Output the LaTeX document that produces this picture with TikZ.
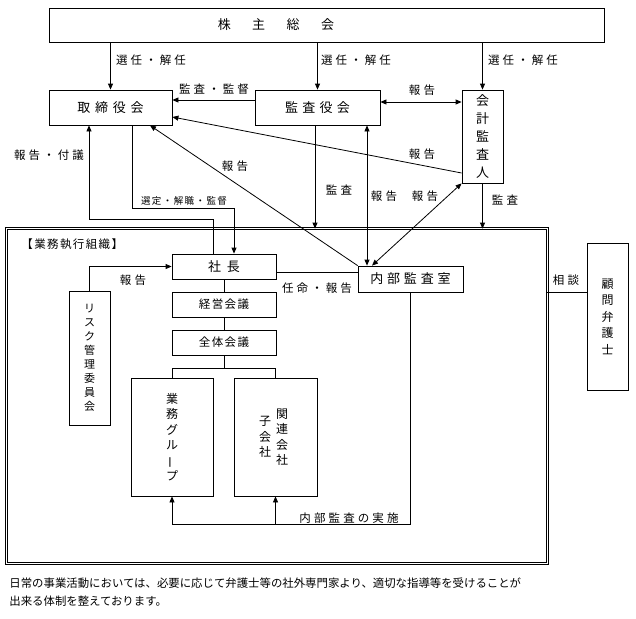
\documentclass[tikz,border=0pt]{standalone}
\usepackage{fontspec}
\setmainfont{Noto Sans CJK JP}
\usepackage{tikz}
\usetikzlibrary{arrows.meta}

\begin{document}
\begin{tikzpicture}[x=1pt, y=-1pt,
  >={Triangle[length=6pt, width=5pt]},
  box/.style={rectangle, draw=black, inner sep=0pt},
  %
  bigtext/.style={inner sep=0pt,
    font={\fontsize{13}{15}\selectfont\addfontfeature{LetterSpace=#1}}},
  %
  midtext/.style={inner sep=0pt,
    font={\fontsize{11.5}{13}\selectfont\addfontfeature{LetterSpace=12}}},
  %
  edgetext/.style={inner sep=0pt,
    font={\fontsize{11.5}{13}\selectfont\addfontfeature{LetterSpace=27}}},
  %
  smalltext/.style={inner sep=0pt,
    font={\fontsize{9.5}{11}\selectfont\addfontfeature{LetterSpace=15}}},
  %
  vtext/.style 2 args={inner sep=0pt, align=center,
    font={\fontsize{#1}{#2}\selectfont}},
  %
  orgframe/.style={draw=black, double=white, double distance=1.4pt,
    line width=.7pt}
  ]

  \tikzset{every path/.style={line width=.8pt}}
  \useasboundingbox (0,0) rectangle (636,618);

  \begin{scope}
    %%%%%%%%%%%%%%%%%%%%%%%%%%%%%%% top
    \node [box, minimum width=555, minimum height=34] (soukai) at (326.5,25) {};
    \node [bigtext=0] (soukaiText) at (276,25)
      {株\hspace{21.5pt}主\hspace{21.5pt}総\hspace{21.5pt}会};
    \node [box, bigtext=36, minimum width=123, minimum height=35]
      (torishimari) at (110.5,107.5) {取締役会};
    \node [box, bigtext=33, minimum width=125, minimum height=35]
      (kansayaku) at (317.5,107.5) {監査役会};
    \node [box, vtext={13}{18}, minimum width=41, minimum height=93]
      (kaikei) at (482.5,136.5) {会\\計\\監\\査\\人};
    %%%%%%%%%%%%%%%%%%%%%%%%%%%%%%% organisation
    \node [inner sep=0pt, minimum width=540, minimum height=334] (org) at (277,396) {};
    \draw [orgframe] (org.north west) rectangle (org.south east);
    \node [midtext, anchor=west] (orgText) at (21,244) {【業務執行組織】};
    \node [box, bigtext=46, minimum width=104, minimum height=25]
      (shacho) at (224,266.5) {社長};
    \node [box, midtext, minimum width=104, minimum height=25]
      (keiei) at (224,304.5) {経営会議};
    \node [box, midtext, minimum width=104, minimum height=25]
      (zentai) at (224,342.5) {全体会議};
    \node [box, vtext={12}{15.4}, minimum width=82, minimum height=118]
      (gyomu) at (172,437) {業\\務\\グ\\ル\\\rotatebox[origin=c]{90}{ー}\\プ};
    \node [box, minimum width=83, minimum height=118] (kanrenBox) at (275.5,437) {};
    \node [vtext={12}{15.5}] (kanren) at (282,437) {関\\連\\会\\社};
    \node [vtext={12}{15.5}] (kogaisha) at (265,437) {子\\会\\社};
    \node [box, vtext={11}{14}, minimum width=41, minimum height=134]
      (risk) at (89.5,358) {リ\\ス\\ク\\管\\理\\委\\員\\会};
    \node [box, bigtext=29, minimum width=105, minimum height=26]
      (naibu) at (410.5,279) {内部監査室};
    %%%%%%%%%%%%%%%%%%%%%%%%%%%%%%% outside
    \node [box, vtext={12}{16.5}, minimum width=41, minimum height=147]
      (komon) at (607.5,316.5) {顧\\問\\弁\\護\\士};
    \node [anchor=west, inner sep=0pt, align=left,
      font={\fontsize{11.4}{18}\selectfont}] (note) at (9,592)
      {日常の事業活動においては、必要に応じて弁護士等の社外専門家より、適切な指導等を受けることが\\
       出来る体制を整えております。};
  \end{scope}

  \begin{scope}
    % shareholders
    \draw [->] (soukai.south -| torishimari.north) -- (torishimari.north);
    \draw [->] (soukai.south -| kansayaku.north) -- (kansayaku.north);
    \draw [->] (soukai.south -| kaikei.north) -- (kaikei.north);
    % board level
    \draw [->] ([yshift=7.5pt]kansayaku.west) -- ([yshift=7.5pt]kansayaku.west -| torishimari.east);
    \draw [<->] ([yshift=5.5pt]kansayaku.east) -- ([yshift=5.5pt]kansayaku.east -| kaikei.west);
    \draw [->] ([yshift=-36.5pt]kaikei.west) -- ([yshift=-9.5pt]torishimari.east);
    \draw [->] (naibu.north west) -- ([xshift=39.5pt]torishimari.south);
    \draw [->] ([xshift=-11pt]shacho.north) -- ++(0,-34) -| ([xshift=-21.5pt]torishimari.south);
    \draw [->] ([xshift=21.5pt]torishimari.south) -- ++(0,83) -| ([xshift=10pt]shacho.north);
    \draw [->] ([xshift=-2.5pt]kansayaku.south) -- ([xshift=-2.5pt]kansayaku.south |- org.north);
    \draw [<->] ([xshift=-43.5pt]naibu.north) -- ([xshift=-43.5pt]naibu.north |- kansayaku.south);
    \draw [<->] ([xshift=-38.5pt]naibu.north) -- (kaikei.south west);
    \draw [->] (kaikei.south) -- (kaikei.south |- org.north);
    % organisation
    \draw [->] (risk.north) |- (shacho.west);
    \draw (shacho) -- (keiei) -- (zentai);
    \draw (zentai.south) -- ++(0,12.5) -| (gyomu.north);
    \draw (zentai.south) ++(0,12.5) -| (kanrenBox.north);
    \draw ([yshift=-5.5pt]shacho.east) -- ([yshift=-5.5pt]shacho.east -| naibu.west);
    \coordinate (jisshi) at (naibu.south |- 0,524);
    \draw [->] (naibu.south) -- (jisshi) -| (gyomu.south);
    \draw [->] (jisshi -| kanrenBox.south) -- (kanrenBox.south);
    \draw ([yshift=24.5pt]komon.west) -- ([yshift=24.5pt]komon.west -| org.east);
  \end{scope}

  \begin{scope}
    \node [edgetext] (lSennin1) at (151,60) {選任・解任};
    \node [edgetext] (lSennin2) at (356,60) {選任・解任};
    \node [edgetext] (lSennin3) at (523,60) {選任・解任};
    \node [edgetext] (lKantoku) at (214,89) {監査・監督};
    \node [edgetext] (lHokoku1) at (422,90) {報告};
    \node [edgetext] (lHokoku2) at (422,154) {報告};
    \node [edgetext] (lHokoku3) at (235,166) {報告};
    \node [edgetext] (lFugi) at (49,155) {報告・付議};
    \node [smalltext] (lSentei) at (184,201) {選定・解職・監督};
    \node [edgetext] (lKansa1) at (339,190) {監査};
    \node [edgetext] (lHokoku4) at (384,196) {報告};
    \node [edgetext] (lHokoku5) at (425,196) {報告};
    \node [edgetext] (lKansa2) at (505,200) {監査};
    \node [edgetext] (lHokokuRisk) at (133,280) {報告};
    \node [edgetext] (lNinmei) at (317,288) {任命・報告};
    \node [edgetext] (lSodan) at (566,280) {相談};
    \node [edgetext] (lJisshi) at (349,518) {内部監査の実施};
  \end{scope}

\end{tikzpicture}
\end{document}
